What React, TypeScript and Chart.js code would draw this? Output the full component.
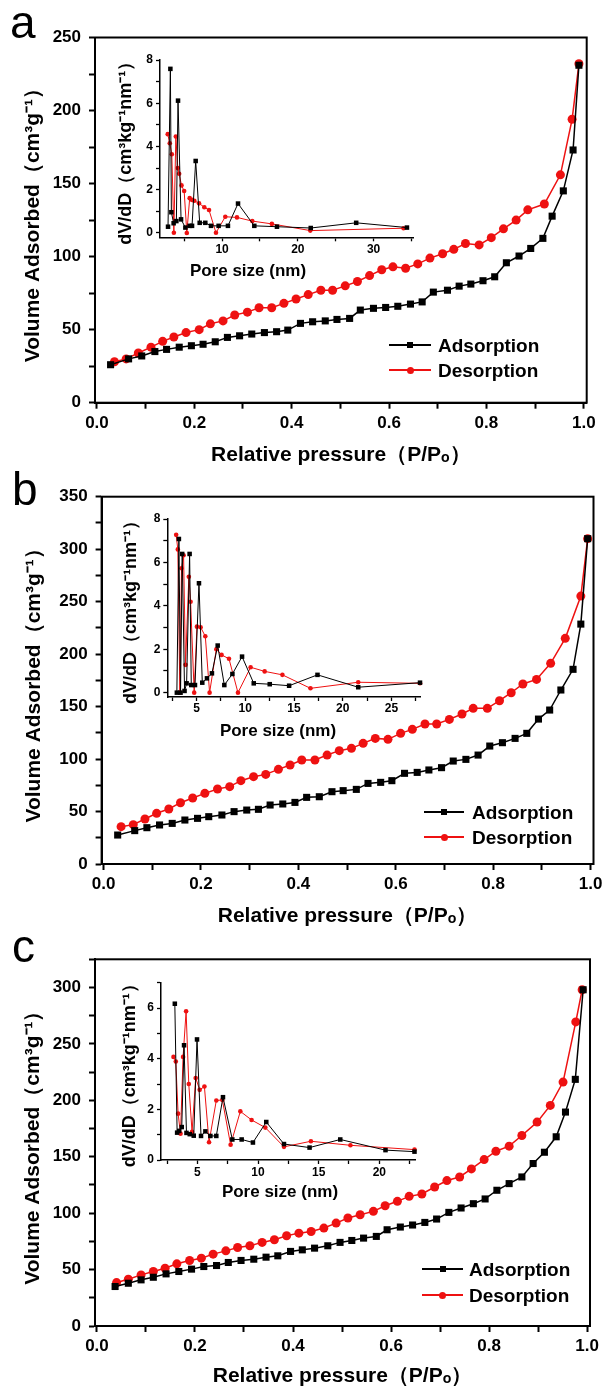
import React, { useEffect, useRef } from "react";
import { Chart, registerables } from "chart.js";

Chart.register(...registerables);

// ---------------- DATA ----------------
// Panel a – isotherm
const aAdsX = [0.028, 0.065, 0.092, 0.119, 0.143, 0.169, 0.194, 0.218, 0.243, 0.268, 0.293, 0.318, 0.344, 0.369, 0.392, 0.418, 0.443, 0.469, 0.493, 0.519, 0.541, 0.568, 0.593, 0.618, 0.644, 0.668, 0.691, 0.72, 0.744, 0.768, 0.793, 0.817, 0.841, 0.867, 0.891, 0.916, 0.935, 0.958, 0.978, 0.99];
const aAdsY = [26, 30, 32, 35, 36.5, 38, 39, 40, 41.7, 44.7, 45.8, 47, 48, 48.6, 49.7, 54.3, 55.4, 56, 57, 57.7, 63.4, 64.6, 65.2, 66, 67.5, 69, 75.7, 77, 79.8, 81.2, 83.5, 86.2, 95.8, 100.4, 105.6, 112.5, 127.7, 145, 173, 231];
const aDesX = [0.036, 0.06, 0.085, 0.111, 0.135, 0.158, 0.183, 0.21, 0.233, 0.259, 0.283, 0.309, 0.333, 0.359, 0.384, 0.409, 0.434, 0.46, 0.484, 0.51, 0.535, 0.56, 0.585, 0.608, 0.634, 0.659, 0.684, 0.71, 0.733, 0.757, 0.785, 0.81, 0.835, 0.861, 0.885, 0.919, 0.952, 0.976, 0.99];
const aDesY = [28, 30, 34, 38, 42, 45, 48, 50, 54, 56, 60, 62, 65, 65, 68, 71, 74, 77, 77, 80, 83, 87, 91, 93, 92, 95, 99, 102, 105, 109, 108, 113, 119, 125, 132, 136, 156, 194, 232];

// Panel a – pore size inset
const aPoreAdsX = [2.86, 3.17, 3.3, 3.6, 3.96, 4.18, 4.58, 5.15, 5.72, 6.03, 6.51, 7.04, 7.78, 8.53, 9.54, 10.77, 12.1, 14.25, 17.24, 21.7, 27.7, 34.4];
const aPoreAdsY = [0.29, 7.59, 0.96, 0.45, 0.55, 6.12, 0.63, 0.25, 0.33, 0.33, 3.33, 0.47, 0.47, 0.33, 0.33, 0.33, 1.36, 0.33, 0.29, 0.23, 0.47, 0.25];
const aPoreDesX = [2.82, 3.09, 3.36, 3.63, 3.89, 4.15, 4.33, 4.64, 4.99, 5.34, 5.72, 6.03, 6.33, 6.95, 7.65, 8.27, 9.19, 10.42, 11.96, 13.98, 16.57, 21.64, 33.95];
const aPoreDesY = [4.57, 4.15, 3.64, 0.01, 4.46, 3.0, 2.74, 2.2, 1.94, 0, 1.61, 1.53, 1.49, 1.37, 1.19, 1.06, 0.01, 0.75, 0.72, 0.55, 0.42, 0.11, 0.22];

// Panel b – isotherm
const bAdsX = [0.029, 0.064, 0.089, 0.115, 0.141, 0.167, 0.193, 0.216, 0.243, 0.268, 0.294, 0.318, 0.342, 0.368, 0.393, 0.417, 0.443, 0.469, 0.492, 0.519, 0.543, 0.569, 0.592, 0.618, 0.644, 0.668, 0.694, 0.718, 0.744, 0.769, 0.793, 0.819, 0.845, 0.869, 0.893, 0.916, 0.939, 0.964, 0.98, 0.994];
const bAdsY = [27.6, 31.8, 34.6, 37.2, 38.7, 41.9, 43.5, 45.1, 46.7, 49.9, 51.4, 52.1, 56.2, 57.2, 58.7, 63.5, 64.1, 68.9, 69.9, 71.1, 76.8, 77.8, 79.4, 86.4, 87.3, 89.6, 91.8, 98.1, 99.7, 103.8, 112.4, 115.6, 119.7, 124.5, 138.1, 146.7, 165.8, 185.5, 228.6, 310];
const bDesX = [0.036, 0.061, 0.085, 0.109, 0.134, 0.158, 0.183, 0.208, 0.234, 0.259, 0.282, 0.308, 0.333, 0.359, 0.383, 0.407, 0.434, 0.459, 0.484, 0.509, 0.533, 0.558, 0.584, 0.61, 0.634, 0.66, 0.684, 0.71, 0.736, 0.759, 0.788, 0.813, 0.837, 0.861, 0.889, 0.918, 0.948, 0.98, 0.994];
const bDesY = [35.6, 37.5, 42.9, 48.3, 52.4, 58.4, 62.9, 67.3, 71.5, 73.7, 79.4, 83.2, 85.4, 90.2, 94.3, 99.1, 99.1, 103.8, 108, 110.2, 115, 119.7, 118.8, 124.5, 128.3, 133.4, 133.4, 137.8, 142.9, 148.3, 148.3, 155.6, 163.2, 171.5, 175.9, 191.2, 215, 255.3, 310];

// Panel b – pore size inset
const bPoreAdsX = [2.98, 3.19, 3.36, 3.53, 3.77, 3.98, 4.29, 4.46, 4.84, 5.25, 5.59, 6.07, 6.58, 7.17, 7.85, 8.68, 9.67, 10.87, 12.51, 14.5, 17.41, 21.59, 27.93];
const bPoreAdsY = [0, 7.08, 0, 6.39, 0.08, 0.43, 6.39, 0.35, 0.35, 5.04, 0.46, 0.66, 0.89, 2.17, 0.35, 0.86, 1.66, 0.43, 0.39, 0.32, 0.82, 0.25, 0.46];
const bPoreDesX = [2.91, 3.08, 3.29, 3.46, 3.67, 3.87, 4.21, 4.39, 4.76, 5.04, 5.42, 5.9, 6.34, 7.03, 7.57, 8.33, 9.25, 10.55, 11.99, 13.81, 16.69, 21.59, 27.93];
const bPoreDesY = [7.27, 6.6, 0, 5.73, 6.33, 1.28, 5.34, 4.19, 0, 3.04, 3.01, 2.6, 0, 2.0, 1.74, 1.56, 0, 1.17, 0.98, 0.82, 0.2, 0.48, 0.43];

// Panel c – isotherm
const cAdsX = [0.037, 0.064, 0.09, 0.115, 0.141, 0.167, 0.193, 0.218, 0.244, 0.268, 0.294, 0.32, 0.345, 0.369, 0.395, 0.419, 0.444, 0.471, 0.496, 0.52, 0.544, 0.57, 0.592, 0.619, 0.644, 0.669, 0.693, 0.718, 0.743, 0.768, 0.792, 0.816, 0.841, 0.867, 0.89, 0.913, 0.937, 0.956, 0.976, 0.992];
const cAdsY = [35, 37.9, 40.9, 43.2, 46.2, 48.3, 50.4, 52.7, 53.6, 56.3, 58.1, 59.2, 61, 62.2, 66.1, 67.5, 69, 71.1, 74.1, 75.8, 77.9, 79.4, 85.3, 87.7, 89.5, 91.8, 94.8, 100.7, 104.6, 108.4, 112.6, 120.3, 126.2, 132.1, 144, 154, 167.7, 189.6, 218.6, 298];
const cDesX = [0.04, 0.064, 0.09, 0.115, 0.139, 0.163, 0.189, 0.213, 0.237, 0.263, 0.287, 0.312, 0.337, 0.362, 0.387, 0.412, 0.437, 0.463, 0.488, 0.512, 0.537, 0.564, 0.588, 0.613, 0.637, 0.663, 0.689, 0.714, 0.74, 0.764, 0.79, 0.814, 0.841, 0.867, 0.898, 0.925, 0.951, 0.977, 0.99];
const cDesY = [38.5, 41.5, 45.3, 48.3, 51.2, 55.1, 58.1, 60.1, 63.7, 66.6, 69.6, 71.1, 74.1, 76.4, 80, 82.3, 83.8, 86.8, 91.2, 95.7, 98.6, 101.6, 106.6, 110.5, 114.9, 117, 123.2, 128.9, 132.1, 139.2, 147.5, 154.9, 159.4, 168.8, 180.7, 195.5, 216.2, 269.5, 298];

// Panel c – pore size inset
const cPoreAdsX = [3.14, 3.33, 3.5, 3.71, 3.9, 4.1, 4.37, 4.7, 4.97, 5.3, 5.66, 6.07, 6.56, 7.11, 7.88, 8.65, 9.58, 10.68, 12.14, 14.25, 16.78, 20.51, 22.9];
const cPoreAdsY = [6.17, 1.08, 1.15, 1.3, 4.53, 1.07, 1.02, 0.96, 4.76, 0.95, 1.13, 0.95, 0.95, 2.48, 0.81, 0.81, 0.69, 1.5, 0.63, 0.49, 0.81, 0.39, 0.33];
const cPoreDesX = [3.03, 3.22, 3.41, 3.61, 3.82, 4.07, 4.29, 4.56, 4.86, 5.19, 5.58, 5.96, 6.56, 7.06, 7.74, 8.54, 9.47, 10.6, 12.14, 14.36, 17.62, 22.9];
const cPoreDesY = [4.07, 3.89, 1.83, 1.04, 4.07, 5.87, 3.0, 1.11, 3.24, 2.77, 2.9, 0.7, 2.35, 2.37, 0.6, 1.92, 1.58, 1.28, 0.52, 0.74, 0.58, 0.41];

// Ticks & labels
const pressureTicks = [0, 0.1, 0.2, 0.3, 0.4, 0.5, 0.6, 0.7, 0.8, 0.9, 1.0];
const pressureLabels = ["0.0", "", "0.2", "", "0.4", "", "0.6", "", "0.8", "", "1.0"];
const volTicksA = [0, 25, 50, 75, 100, 125, 150, 175, 200, 225, 250];
const volLabelsA = ["0", "", "50", "", "100", "", "150", "", "200", "", "250"];
const volTicksB = [0, 25, 50, 75, 100, 125, 150, 175, 200, 225, 250, 275, 300, 325, 350];
const volLabelsB = ["0", "", "50", "", "100", "", "150", "", "200", "", "250", "", "300", "", "350"];
const volTicksC = [0, 25, 50, 75, 100, 125, 150, 175, 200, 225, 250, 275, 300, 325];
const volLabelsC = ["0", "", "50", "", "100", "", "150", "", "200", "", "250", "", "300", ""];
const poreTicksA = [5, 10, 15, 20, 25, 30, 35];
const poreLabelsA = ["", "10", "", "20", "", "30", ""];
const poreTicksB = [2.5, 5, 7.5, 10, 12.5, 15, 17.5, 20, 22.5, 25, 27.5];
const poreLabelsB = ["", "5", "", "10", "", "15", "", "20", "", "25", ""];
const poreTicksC = [2.5, 5, 7.5, 10, 12.5, 15, 17.5, 20, 22.5];
const poreLabelsC = ["", "5", "", "10", "", "15", "", "20", ""];
const dvTicksAB = [0, 1, 2, 3, 4, 5, 6, 7, 8];
const dvLabelsAB = ["0", "", "2", "", "4", "", "6", "", "8"];
const dvTicksC = [0, 1, 2, 3, 4, 5, 6, 7];
const dvLabelsC = ["0", "", "2", "", "4", "", "6", ""];

const seriesNames = ["Adsorption", "Desorption"];
const panelLetters = ["a", "b", "c"];
const xTitleMain = "Relative pressure（P/Pₒ）";
const yTitleMain = "Volume Adsorbed（cm³g⁻¹）";
const xTitleInset = "Pore size (nm)";
const yTitleInset = "dV/dD（cm³kg⁻¹nm⁻¹）";

// ---------------- STYLE / LAYOUT ----------------
const FONT = '"Liberation Sans", Arial, Helvetica, sans-serif';
const BLACK = "#000000";
const RED = "#ee1111";
const PAGE_W = 608;

const mainLayouts = [
  { top: 0, height: 470, l: 95, r: 586.7, t: 37.5, b: 402.7, yMax: 250, yTitleX: 33, xTitleY: 455 },
  { top: 460, height: 470, l: 101.6, r: 593.5, t: 496.7, b: 864, yMax: 350, yTitleX: 34, xTitleY: 916 },
  { top: 920, height: 471, l: 95, r: 590, t: 959.3, b: 1326, yMax: 325, yTitleX: 33, xTitleY: 1376 },
];

const insetLayouts = [
  { left: 90, width: 345, top: 45, height: 217, l: 160, r: 413, t: 60, b: 237.3, xMin: 1.8, xMax: 35.2, yMin: -0.2, yMax: 8, yTitleX: 126, xTitleCx: 248, xTitleCy: 270, xTickPad: 1 },
  { left: 90, width: 345, top: 504, height: 218, l: 167.3, r: 420.7, t: 519, b: 697, xMin: 2, xMax: 28, yMin: -0.2, yMax: 8, yTitleX: 131, xTitleCx: 278, xTitleCy: 730, xTickPad: 0 },
  { left: 90, width: 345, top: 967, height: 218, l: 161, r: 415.7, t: 982.7, b: 1160, xMin: 2, xMax: 23, yMin: 0, yMax: 7, yTitleX: 130, xTitleCx: 280, xTitleCy: 1191.7, xTickPad: 1 },
];

const legendLayouts = [
  { x1: 389, x2: 431, y: 345, gap: 25, textLeft: 438 },
  { x1: 424, x2: 464, y: 812, gap: 25, textLeft: 472 },
  { x1: 422, x2: 463, y: 1269, gap: 26, textLeft: 469 },
];

const letterLayouts = [
  { left: 10, top: -1 },
  { left: 12, top: 466 },
  { left: 12, top: 923 },
];

function zip(xs: number[], ys: number[]) {
  return xs.map((x, i) => ({ x, y: ys[i] }));
}

const framePlugin = {
  id: "frameBox",
  afterDraw(chart: any) {
    const { ctx, chartArea } = chart;
    ctx.save();
    ctx.strokeStyle = BLACK;
    ctx.lineWidth = 2;
    ctx.strokeRect(chartArea.left, chartArea.top, chartArea.right - chartArea.left, chartArea.bottom - chartArea.top);
    ctx.restore();
  },
};

function mainConfig(L: any, adsX: number[], adsY: number[], desX: number[], desY: number[], yTicks: number[], yLabels: string[]) {
  const titleHalf = (21 * 1.2) / 2;
  return {
    type: "scatter",
    data: {
      datasets: [
        { label: seriesNames[0], data: zip(adsX, adsY), showLine: true, borderColor: BLACK, backgroundColor: BLACK, borderWidth: 1.5, pointStyle: "rect", pointRadius: 5, pointBorderWidth: 0, clip: false },
        { label: seriesNames[1], data: zip(desX, desY), showLine: true, borderColor: RED, backgroundColor: RED, borderWidth: 1.5, pointStyle: "circle", pointRadius: 4.5, pointBorderWidth: 0, clip: false },
      ],
    },
    options: {
      animation: false,
      responsive: false,
      maintainAspectRatio: false,
      events: [],
      layout: { padding: { left: 0, top: L.t - L.top, right: PAGE_W - L.r, bottom: 0 } },
      plugins: { legend: { display: false }, tooltip: { enabled: false } },
      scales: {
        x: {
          type: "linear",
          position: "bottom",
          min: -0.004,
          max: 1.006,
          afterFit: (s: any) => { s.height = L.top + L.height - L.b; },
          afterBuildTicks: (s: any) => { s.ticks = pressureTicks.map((v) => ({ value: v })); },
          ticks: { autoSkip: false, maxRotation: 0, padding: 4, color: BLACK, font: { family: FONT, size: 17, weight: "bold" }, callback: (_v: any, i: number) => pressureLabels[i] ?? "" },
          grid: { drawOnChartArea: false, drawTicks: true, tickLength: 6, tickColor: BLACK, tickWidth: 2 },
          border: { display: true, color: BLACK, width: 2 },
          title: { display: true, text: xTitleMain, color: BLACK, font: { family: FONT, size: 21, weight: "bold" }, padding: { top: 0, bottom: Math.max(0, L.top + L.height - L.xTitleY - titleHalf) } },
        },
        y: {
          type: "linear",
          position: "left",
          min: 0,
          max: L.yMax,
          afterFit: (s: any) => { s.width = L.l; },
          afterBuildTicks: (s: any) => { s.ticks = yTicks.map((v) => ({ value: v })); },
          ticks: { autoSkip: false, padding: 8, color: BLACK, font: { family: FONT, size: 17, weight: "bold" }, callback: (_v: any, i: number) => yLabels[i] ?? "" },
          grid: { drawOnChartArea: false, drawTicks: true, tickLength: 6, tickColor: BLACK, tickWidth: 2 },
          border: { display: true, color: BLACK, width: 2 },
          title: { display: true, text: yTitleMain, color: BLACK, font: { family: FONT, size: 21, weight: "bold" }, padding: { top: L.yTitleX - titleHalf, bottom: 0 } },
        },
      },
    },
    plugins: [framePlugin],
  };
}

function insetConfig(I: any, adsX: number[], adsY: number[], desX: number[], desY: number[], xTicks: number[], xLabels: string[], yTicks: number[], yLabels: string[]) {
  const titleSize = 18;
  const titleHalf = (titleSize * 1.2) / 2;
  return {
    type: "scatter",
    data: {
      datasets: [
        { label: seriesNames[0], data: zip(adsX, adsY), showLine: true, borderColor: BLACK, backgroundColor: BLACK, borderWidth: 1, pointStyle: "rect", pointRadius: 3.2, pointBorderWidth: 0, clip: false },
        { label: seriesNames[1], data: zip(desX, desY), showLine: true, borderColor: RED, backgroundColor: RED, borderWidth: 1, pointStyle: "circle", pointRadius: 2.3, pointBorderWidth: 0, clip: false },
      ],
    },
    options: {
      animation: false,
      responsive: false,
      maintainAspectRatio: false,
      events: [],
      layout: { padding: { left: 0, top: I.t - I.top, right: I.left + I.width - I.r, bottom: 0 } },
      plugins: { legend: { display: false }, tooltip: { enabled: false } },
      scales: {
        x: {
          type: "linear",
          position: "bottom",
          min: I.xMin,
          max: I.xMax,
          afterFit: (s: any) => { s.height = I.top + I.height - I.b; },
          afterBuildTicks: (s: any) => { s.ticks = xTicks.map((v) => ({ value: v })); },
          ticks: { autoSkip: false, maxRotation: 0, padding: I.xTickPad, color: BLACK, font: { family: FONT, size: 12, weight: "bold" }, callback: (_v: any, i: number) => xLabels[i] ?? "" },
          grid: { drawOnChartArea: false, drawTicks: true, tickLength: 4, tickColor: BLACK, tickWidth: 1.3 },
          border: { display: true, color: BLACK, width: 1.5 },
        },
        y: {
          type: "linear",
          position: "left",
          min: I.yMin,
          max: I.yMax,
          afterFit: (s: any) => { s.width = I.l - I.left; },
          afterBuildTicks: (s: any) => { s.ticks = yTicks.map((v) => ({ value: v })); },
          ticks: { autoSkip: false, padding: 3, color: BLACK, font: { family: FONT, size: 12, weight: "bold" }, callback: (_v: any, i: number) => yLabels[i] ?? "" },
          grid: { drawOnChartArea: false, drawTicks: true, tickLength: 4, tickColor: BLACK, tickWidth: 1.3 },
          border: { display: true, color: BLACK, width: 1.5 },
          title: { display: true, text: yTitleInset, color: BLACK, font: { family: FONT, size: titleSize, weight: "bold" }, padding: { top: I.yTitleX - I.left - titleHalf, bottom: 0 } },
        },
      },
    },
  };
}

function ChartCanvas({ left, top, width, height, make }: any) {
  const ref = useRef<HTMLCanvasElement>(null);
  useEffect(() => {
    const chart = new Chart(ref.current as HTMLCanvasElement, make());
    return () => chart.destroy();
  }, []);
  return (
    <canvas
      ref={ref}
      width={width}
      height={height}
      style={{ position: "absolute", left, top, width, height }}
    />
  );
}

function Legend({ L }: any) {
  const fs = 19;
  const rows = [
    { name: seriesNames[0], color: BLACK, round: false, size: 6 },
    { name: seriesNames[1], color: RED, round: true, size: 7 },
  ];
  return (
    <>
      {rows.map((row, i) => {
        const y = L.y + i * L.gap;
        const mx = (L.x1 + L.x2) / 2;
        return (
          <React.Fragment key={row.name}>
            <div style={{ position: "absolute", left: L.x1, top: y - 0.75, width: L.x2 - L.x1, height: 1.5, background: row.color }} />
            <div style={{ position: "absolute", left: mx - row.size / 2, top: y - row.size / 2, width: row.size, height: row.size, background: row.color, borderRadius: row.round ? "50%" : 0 }} />
            <div style={{ position: "absolute", left: L.textLeft, top: y - 0.488 * fs, fontFamily: FONT, fontSize: fs, lineHeight: `${fs}px`, fontWeight: "bold", color: BLACK, whiteSpace: "nowrap" }}>
              {row.name}
            </div>
          </React.Fragment>
        );
      })}
    </>
  );
}

function InsetXTitle({ I }: any) {
  const fs = 17;
  return (
    <div style={{ position: "absolute", left: I.xTitleCx - 100, width: 200, top: I.xTitleCy - 0.488 * fs, textAlign: "center", fontFamily: FONT, fontSize: fs, lineHeight: `${fs}px`, fontWeight: "bold", color: BLACK, whiteSpace: "nowrap" }}>
      {xTitleInset}
    </div>
  );
}

export default function App() {
  const panels = [
    {
      main: () => mainConfig(mainLayouts[0], aAdsX, aAdsY, aDesX, aDesY, volTicksA, volLabelsA),
      inset: () => insetConfig(insetLayouts[0], aPoreAdsX, aPoreAdsY, aPoreDesX, aPoreDesY, poreTicksA, poreLabelsA, dvTicksAB, dvLabelsAB),
    },
    {
      main: () => mainConfig(mainLayouts[1], bAdsX, bAdsY, bDesX, bDesY, volTicksB, volLabelsB),
      inset: () => insetConfig(insetLayouts[1], bPoreAdsX, bPoreAdsY, bPoreDesX, bPoreDesY, poreTicksB, poreLabelsB, dvTicksAB, dvLabelsAB),
    },
    {
      main: () => mainConfig(mainLayouts[2], cAdsX, cAdsY, cDesX, cDesY, volTicksC, volLabelsC),
      inset: () => insetConfig(insetLayouts[2], cPoreAdsX, cPoreAdsY, cPoreDesX, cPoreDesY, poreTicksC, poreLabelsC, dvTicksC, dvLabelsC),
    },
  ];
  return (
    <div style={{ position: "absolute", left: 0, top: 0, width: PAGE_W, height: 1391, background: "#ffffff", overflow: "hidden" }}>
      {panels.map((p, i) => (
        <React.Fragment key={i}>
          <ChartCanvas left={0} top={mainLayouts[i].top} width={PAGE_W} height={mainLayouts[i].height} make={p.main} />
          <ChartCanvas left={insetLayouts[i].left} top={insetLayouts[i].top} width={insetLayouts[i].width} height={insetLayouts[i].height} make={p.inset} />
          <InsetXTitle I={insetLayouts[i]} />
          <Legend L={legendLayouts[i]} />
          <div style={{ position: "absolute", left: letterLayouts[i].left, top: letterLayouts[i].top, fontFamily: FONT, fontSize: 46, lineHeight: "46px", color: BLACK }}>
            {panelLetters[i]}
          </div>
        </React.Fragment>
      ))}
    </div>
  );
}
